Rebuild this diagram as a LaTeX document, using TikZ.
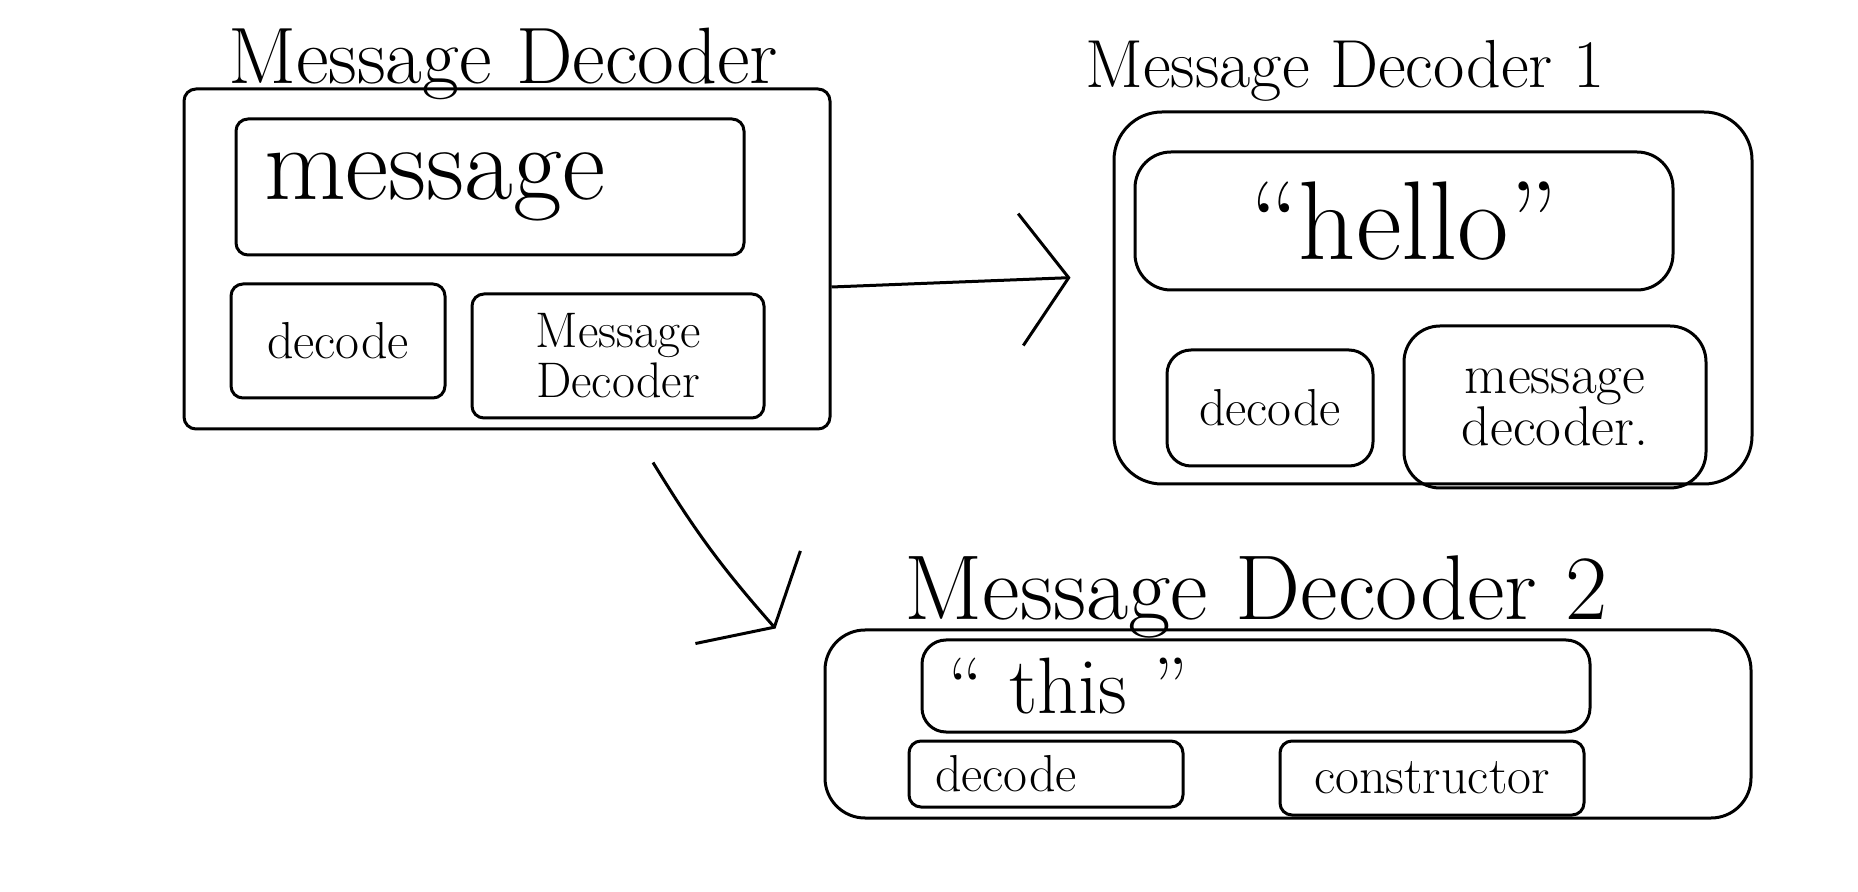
\documentclass[tikz,border=0pt]{standalone}
\usetikzlibrary{arrows.meta}
\begin{document}
\begin{tikzpicture}[x=0.5pt, y=-0.5pt, line width=1.5pt,
  box/.style={draw, rounded corners=6pt, inner sep=0pt},
  title/.style={anchor=base, inner sep=0pt}]
\useasboundingbox (0,0) rectangle (1858,892);
\node[title, font=\fontsize{40}{40}\selectfont] (tit0) at (503,84){Message Decoder};
\node[box, minimum width=323pt, minimum height=170pt] (box0) at (507,259){};
\node[box, minimum width=254pt, minimum height=68pt, text width=226pt, align=left, font=\fontsize{53}{53}\selectfont] (msg0) at (490,187){message};
\node[box, minimum width=107pt, minimum height=57pt, font=\fontsize{26}{26}\selectfont] (dec0) at (338,341){decode};
\node[box, minimum width=146pt, minimum height=62pt, align=center, font=\fontsize{25}{25}\selectfont] (sub0) at (618,356){Message\\Decoder};
\node[title, font=\fontsize{34}{34}\selectfont] (tit1) at (1345,88){Message Decoder 1};
\node[box, rounded corners=24pt, minimum width=319pt, minimum height=186pt] (box1) at (1433,298){};
\node[box, rounded corners=18pt, minimum width=269pt, minimum height=69pt, font=\fontsize{56}{56}\selectfont] (msg1) at (1404,221){“hello”};
\node[box, rounded corners=12pt, minimum width=103pt, minimum height=58pt, font=\fontsize{26}{26}\selectfont] (dec1) at (1270,408){decode};
\node[box, rounded corners=18pt, minimum width=151pt, minimum height=81pt, align=center, font=\fontsize{28}{25}\selectfont] (sub1) at (1555,407){message\\decoder.};
\node[title, font=\fontsize{46}{46}\selectfont] (tit2) at (1256,620){Message Decoder 2};
\node[box, rounded corners=20pt, minimum width=463pt, minimum height=94pt] (box2) at (1288,724){};
\node[box, rounded corners=12pt, minimum width=334pt, minimum height=46pt, text width=308pt, align=left, font=\fontsize{40}{40}\selectfont] (msg2) at (1256,686){“ this ”};
\node[box, minimum width=137pt, minimum height=33pt, text width=111pt, align=left, font=\fontsize{26}{26}\selectfont] (dec2) at (1046,774){decode};
\node[box, minimum width=152pt, minimum height=37pt, font=\fontsize{26}{26}\selectfont] (con2) at (1432,778){constructor};
\draw[-{Straight Barb[length=24pt,width=66pt]}, shorten >=21pt] ([yshift=-14pt]box0.east) -- ([yshift=11pt]box1.west);
\draw[-{Straight Barb[length=20pt,width=70pt]}] ([xshift=73pt,yshift=-16pt]box0.south) to[bend right=5] ([xshift=-24pt]box2.north west);
\end{tikzpicture}
\end{document}
